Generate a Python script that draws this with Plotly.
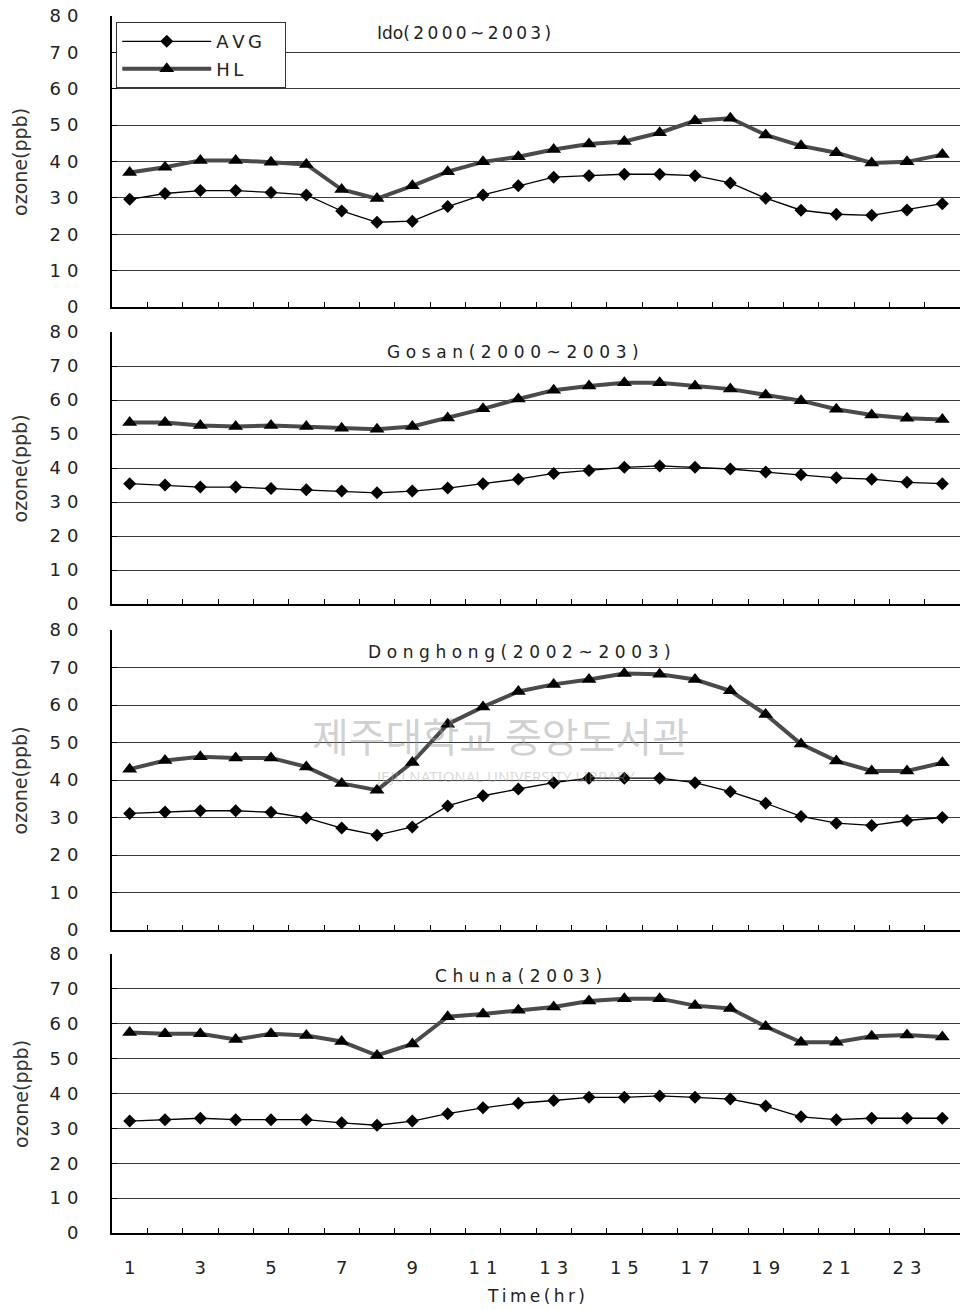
import plotly.graph_objects as go

hours = list(range(1, 25))

ido_avg = [29.6, 31.2, 32.0, 32.0, 31.5, 30.8, 26.4, 23.3, 23.6, 27.6, 30.8, 33.3,
           35.7, 36.1, 36.5, 36.5, 36.1, 34.1, 29.9, 26.6, 25.5, 25.2, 26.7, 28.4]
ido_hl = [37.0, 38.4, 40.3, 40.3, 39.8, 39.2, 32.3, 29.8, 33.3, 37.2, 39.9, 41.3,
          43.3, 44.8, 45.5, 47.9, 51.2, 51.9, 47.3, 44.3, 42.4, 39.6, 39.9, 41.9]

gosan_avg = [35.4, 35.0, 34.4, 34.4, 34.0, 33.6, 33.2, 32.7, 33.2, 34.1, 35.4, 36.7,
             38.4, 39.3, 40.2, 40.6, 40.2, 39.7, 38.8, 38.0, 37.1, 36.7, 35.8, 35.4]
gosan_hl = [53.4, 53.4, 52.5, 52.2, 52.5, 52.2, 51.7, 51.4, 52.2, 54.7, 57.4, 60.3,
            62.9, 64.1, 65.1, 65.1, 64.1, 63.2, 61.5, 59.8, 57.3, 55.6, 54.6, 54.3]

donghong_avg = [31.1, 31.5, 31.8, 31.8, 31.4, 29.9, 27.2, 25.3, 27.5, 33.1, 35.8, 37.6,
                39.3, 40.5, 40.5, 40.5, 39.3, 36.9, 33.8, 30.3, 28.5, 27.9, 29.2, 30.0]
donghong_hl = [42.9, 45.2, 46.2, 45.9, 45.9, 43.5, 39.1, 37.3, 44.7, 54.9, 59.5, 63.6,
               65.5, 66.8, 68.4, 68.2, 66.8, 63.8, 57.5, 49.6, 45.1, 42.4, 42.4, 44.6]

chuna_avg = [32.1, 32.5, 32.9, 32.5, 32.5, 32.5, 31.6, 30.9, 32.1, 34.2, 35.9, 37.2,
             38.0, 38.9, 38.9, 39.3, 38.9, 38.4, 36.4, 33.3, 32.5, 32.9, 32.9, 32.9]
chuna_hl = [57.5, 57.1, 57.1, 55.5, 57.1, 56.6, 54.9, 50.9, 54.2, 62.0, 62.8, 63.9,
            64.8, 66.5, 67.2, 67.2, 65.2, 64.4, 59.2, 54.7, 54.7, 56.4, 56.8, 56.2]

station_names = ["Ido", "Gosan", "Donghong", "Chuna"]
station_periods = ["(2000~2003)", "(2000~2003)", "(2002~2003)", "(2003)"]
avg_series = [ido_avg, gosan_avg, donghong_avg, chuna_avg]
hl_series = [ido_hl, gosan_hl, donghong_hl, chuna_hl]

y_tick_values = [0, 10, 20, 30, 40, 50, 60, 70, 80]
x_label_values = [1, 3, 5, 7, 9, 11, 13, 15, 17, 19, 21, 23]
series_names = ["AVG", "HL"]
y_title = "ozone(ppb)"
x_title = "Time(hr)"

THIN = "\u2009"
THREE = "\u2004"
PAD = "\u2003"


def spaced(s, sp=THIN):
    return sp.join(list(s))


FONT = "DejaVu Sans"
W, H = 960, 1310
ML, MR, MT, MB = 112, 0, 16, 77
plot_h = H - MT - MB
bottom_px = H - MB

# panel pixel extents (top, bottom)
panels_px = [(16, 307), (332, 604), (630, 930), (954, 1233)]
domains = [[(bottom_px - b) / plot_h, (bottom_px - t) / plot_h] for t, b in panels_px]
title_pos = [(0.415, 0.942), (0.473, 0.926), (0.48, 0.927), (0.479, 0.921)]

fig = go.Figure()
boundaries = [h + 0.5 for h in hours[:-1]]

for i in range(4):
    xa = "x" if i == 0 else f"x{i+1}"
    ya = "y" if i == 0 else f"y{i+1}"
    fig.add_trace(go.Scatter(
        x=hours, y=hl_series[i], name=spaced(series_names[1]), xaxis=xa, yaxis=ya,
        mode="lines+markers", line=dict(color="#4a4a4a", width=4),
        marker=dict(symbol="triangle-up", size=13, color="black"),
        showlegend=(i == 0), legendrank=2, legendgroup="hl"))
    fig.add_trace(go.Scatter(
        x=hours, y=avg_series[i], name=spaced(series_names[0]) + PAD, xaxis=xa, yaxis=ya,
        mode="lines+markers", line=dict(color="black", width=1.3),
        marker=dict(symbol="diamond", size=10, color="black"),
        showlegend=(i == 0), legendrank=1, legendgroup="avg"))

layout = dict(
    width=W, height=H,
    margin=dict(l=ML, r=MR, t=MT, b=MB),
    paper_bgcolor="white", plot_bgcolor="white",
    font=dict(family=FONT, size=16, color="#222"),
    legend=dict(x=0.005, y=0.995, xanchor="left", yanchor="top",
                bordercolor="#333", borderwidth=1, bgcolor="white",
                font=dict(size=18, color="#222"), itemwidth=89,
                tracegroupgap=1),
    showlegend=True,
)

annotations = []
for i in range(4):
    sfx = "" if i == 0 else str(i + 1)
    xa_key = "xaxis" + sfx
    ya_key = "yaxis" + sfx
    is_bottom = (i == 3)
    layout[xa_key] = dict(
        domain=[0, 1], anchor="y" + sfx, range=[0.5, 24.5],
        showline=True, linecolor="black", linewidth=2,
        showgrid=False, zeroline=False,
        tickmode="array", tickvals=x_label_values,
        ticktext=[spaced(str(v), THREE) for v in x_label_values],
        ticks="", showticklabels=is_bottom, ticklabelstandoff=17,
        tickfont=dict(size=18, color="#222", family=FONT),
        minor=dict(tickmode="array", tickvals=boundaries, ticks="inside",
                   ticklen=5, tickcolor="black", tickwidth=1, showgrid=False),
    )
    layout[ya_key] = dict(
        domain=domains[i], anchor="x" + sfx, range=[0, 80],
        showline=True, linecolor="black", linewidth=2,
        showgrid=True, gridcolor="#3c3c3c", gridwidth=1, zeroline=False,
        tickmode="array", tickvals=y_tick_values,
        ticktext=[spaced(str(v), THREE) for v in y_tick_values],
        ticks="inside", ticklen=5, tickcolor="black",
        ticklabelstandoff=28,
        tickfont=dict(size=18, color="#222", family=FONT),
    )
    if i == 0:
        title_text = station_names[i] + spaced(station_periods[i], THIN)
    else:
        title_text = spaced(station_names[i] + station_periods[i], THREE)
    annotations.append(dict(
        text=title_text, xref="x" + sfx + " domain", yref="y" + sfx + " domain",
        x=title_pos[i][0], y=title_pos[i][1], xanchor="center", yanchor="middle",
        showarrow=False, font=dict(size=17, color="#222", family=FONT)))
    annotations.append(dict(
        text=y_title, xref="paper", yref="y" + sfx + " domain",
        x=-0.108, y=0.5, xanchor="center", yanchor="middle", textangle=-90,
        showarrow=False, font=dict(size=19, color="#333", family=FONT)))

annotations.append(dict(
    text=spaced(x_title), xref="paper", yref="paper", x=(536 - ML) / (W - ML),
    y=(bottom_px - 1296) / plot_h, xanchor="center", yanchor="middle",
    showarrow=False, font=dict(size=17, color="#222", family=FONT)))

# faint library watermark
annotations.append(dict(
    text="제주대학교 중앙도서관", xref="paper", yref="paper",
    x=(500 - ML) / (W - ML), y=(bottom_px - 735) / plot_h,
    xanchor="center", yanchor="middle", showarrow=False,
    font=dict(size=40, color="rgba(150,150,150,0.45)", family="Noto Sans CJK KR")))
annotations.append(dict(
    text="JEJU NATIONAL UNIVERSITY LIBRARY", xref="paper", yref="paper",
    x=(505 - ML) / (W - ML), y=(bottom_px - 776) / plot_h,
    xanchor="center", yanchor="middle", showarrow=False,
    font=dict(size=15, color="rgba(170,170,170,0.45)", family="Noto Sans")))

layout["annotations"] = annotations
fig.update_layout(**layout)
fig.write_html("out.html")
